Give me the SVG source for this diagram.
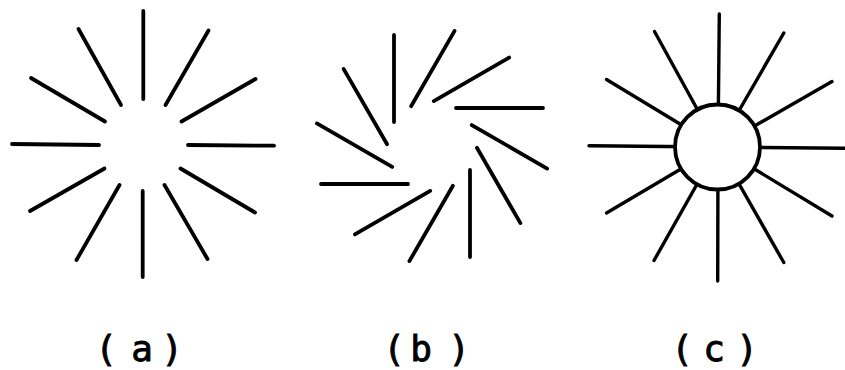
<svg xmlns="http://www.w3.org/2000/svg" width="845" height="370" viewBox="0 0 845 370">
<style>
  .ray { stroke: #000; stroke-width: 3.8; stroke-linecap: round; fill: none; }
  .rayc { stroke: #000; stroke-width: 3.4; stroke-linecap: round; fill: none; }
  .lbl { font-family: "DejaVu Sans Mono", "Liberation Mono", monospace; font-size: 36px; fill: #000; stroke: #000; stroke-width: 0.9; text-anchor: middle; }
</style>
<rect width="845" height="370" fill="#fff"/>

<g id="fig-a">
  <line class="ray" x1="143.3" y1="11" x2="143.3" y2="99"/>
  <line class="ray" x1="142.7" y1="191" x2="142.7" y2="277"/>
  <line class="ray" x1="12" y1="144" x2="99" y2="145"/>
  <line class="ray" x1="188" y1="145" x2="274" y2="145.7"/>
  <line class="ray" x1="78.5" y1="29" x2="121" y2="105"/>
  <line class="ray" x1="31" y1="78" x2="105" y2="121.5"/>
  <line class="ray" x1="208.5" y1="30.5" x2="165.5" y2="105"/>
  <line class="ray" x1="255.5" y1="79" x2="181.5" y2="121.5"/>
  <line class="ray" x1="104.5" y1="168.5" x2="30" y2="211"/>
  <line class="ray" x1="119.5" y1="185" x2="76.5" y2="260"/>
  <line class="ray" x1="164.5" y1="185" x2="207.5" y2="259"/>
  <line class="ray" x1="180.5" y1="168.5" x2="255" y2="212.5"/>
</g>

<g id="fig-b">
  <g transform="translate(432 146)">
    <line class="ray" x1="-38" y1="-24" x2="-38" y2="-111" transform="rotate(0)"/>
    <line class="ray" x1="-38" y1="-24" x2="-38" y2="-111" transform="rotate(30)"/>
    <line class="ray" x1="-38" y1="-24" x2="-38" y2="-111" transform="rotate(60)"/>
    <line class="ray" x1="-38" y1="-24" x2="-38" y2="-111" transform="rotate(90)"/>
    <line class="ray" x1="-38" y1="-24" x2="-38" y2="-111" transform="rotate(120)"/>
    <line class="ray" x1="-38" y1="-24" x2="-38" y2="-111" transform="rotate(150)"/>
    <line class="ray" x1="-38" y1="-24" x2="-38" y2="-111" transform="rotate(180)"/>
    <line class="ray" x1="-38" y1="-24" x2="-38" y2="-111" transform="rotate(210)"/>
    <line class="ray" x1="-38" y1="-24" x2="-38" y2="-111" transform="rotate(240)"/>
    <line class="ray" x1="-38" y1="-24" x2="-38" y2="-111" transform="rotate(270)"/>
    <line class="ray" x1="-38" y1="-24" x2="-38" y2="-111" transform="rotate(300)"/>
    <line class="ray" x1="-38" y1="-24" x2="-38" y2="-111" transform="rotate(330)"/>
  </g>
</g>

<g id="fig-c">
  <line class="rayc" x1="718" y1="147" x2="719.3" y2="14"/>
  <line class="rayc" x1="718" y1="147" x2="717.7" y2="281"/>
  <line class="rayc" x1="718" y1="147" x2="589" y2="145.7"/>
  <line class="rayc" x1="718" y1="147" x2="846" y2="148.3"/>
  <line class="rayc" x1="718" y1="147" x2="654.5" y2="31.5"/>
  <line class="rayc" x1="718" y1="147" x2="606.5" y2="79.5"/>
  <line class="rayc" x1="718" y1="147" x2="783.8" y2="33"/>
  <line class="rayc" x1="718" y1="147" x2="832" y2="81.5"/>
  <line class="rayc" x1="718" y1="147" x2="606.5" y2="213"/>
  <line class="rayc" x1="718" y1="147" x2="654" y2="260.5"/>
  <line class="rayc" x1="718" y1="147" x2="832" y2="216"/>
  <line class="rayc" x1="718" y1="147" x2="783.8" y2="262.5"/>
  <circle cx="717.5" cy="147" r="42.5" fill="#fff" stroke="#000" stroke-width="3.8"/>
</g>

<g id="labels">
  <text class="lbl" x="106 142 172" y="361">(a)</text>
  <text class="lbl" x="394 421 459" y="361">(b)</text>
  <text class="lbl" x="682 714 747" y="361">(c)</text>
</g>
</svg>
